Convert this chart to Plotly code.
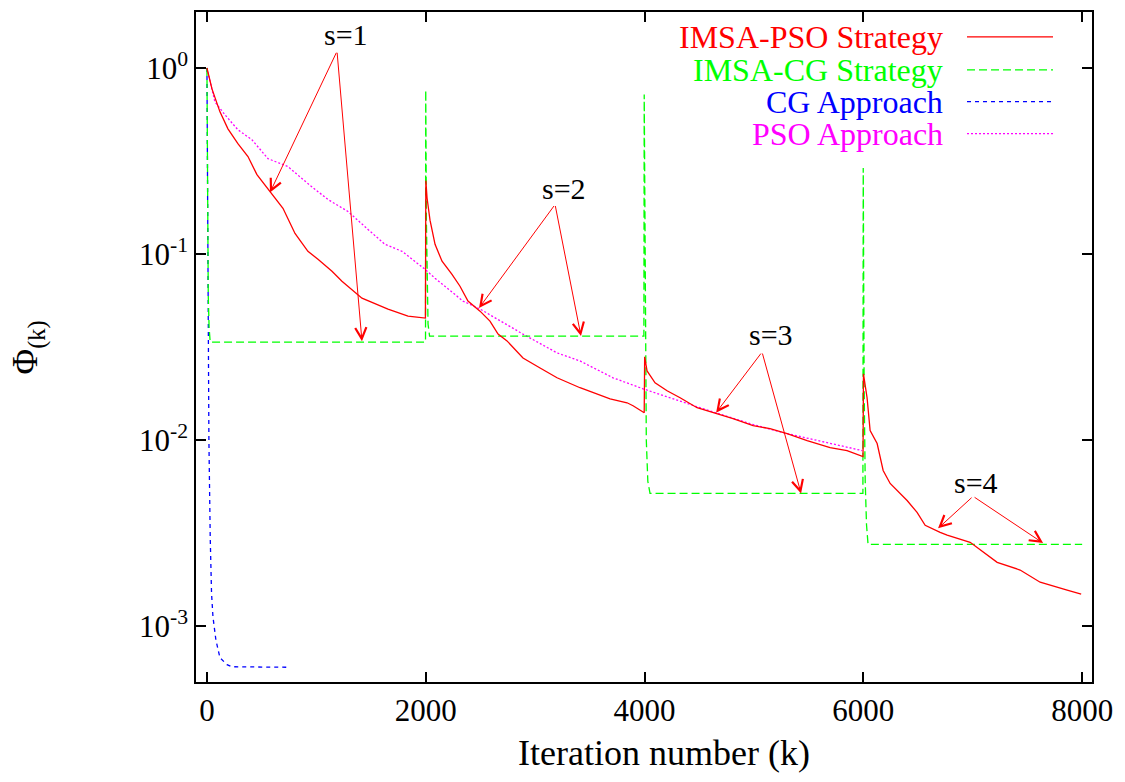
import numpy as np
import plotly.graph_objects as go

# ---------------- data ----------------
# IMSA-PSO Strategy
iter_imsa_pso = [0, 46, 119, 192, 283, 375, 457, 576, 695, 805, 923, 1015, 1143, 1234, 1417, 1655, 1838, 1997,
                 2001, 2012, 2039, 2085, 2149, 2240, 2313, 2386, 2496, 2587, 2661, 2743, 2889, 3045, 3200, 3410, 3685, 3840, 3895, 3997,
                 4001, 4023, 4096, 4206, 4325, 4480, 4663, 4809, 4992, 5147, 5303, 5486, 5696, 5851, 5997,
                 6001, 6034, 6062, 6126, 6181, 6245, 6336, 6400, 6491, 6565, 6702, 6766, 6976, 7223, 7433, 7616, 7863, 7991]
phi_imsa_pso = [1.0, 0.772, 0.581, 0.471, 0.392, 0.334, 0.267, 0.217, 0.176, 0.129, 0.1034, 0.0937, 0.0808, 0.0714, 0.0579, 0.0506, 0.0464, 0.0452,
                0.248, 0.2, 0.152, 0.1127, 0.0914, 0.0778, 0.0671, 0.0558, 0.0493, 0.0436, 0.0371, 0.0341, 0.0276, 0.0244, 0.0216, 0.0191, 0.01666, 0.01586, 0.01529, 0.01402,
                0.028, 0.02353, 0.0203, 0.01839, 0.01688, 0.01491, 0.01385, 0.01302, 0.01194, 0.0115, 0.01082, 0.00993, 0.0091, 0.00877, 0.00815,
                0.0227, 0.01688, 0.01123, 0.00957, 0.00686, 0.00584, 0.00516, 0.00473, 0.00408, 0.00348, 0.00319, 0.00308, 0.00282, 0.0022, 0.0020, 0.00172, 0.00156, 0.001485]

# IMSA-CG Strategy
iter_imsa_cg = [0, 5, 12, 20, 30, 1998, 2000, 2006, 2013, 2021, 2035, 3994, 3997, 4005, 4016, 4030, 4050,
                5996, 5999, 6007, 6017, 6029, 6043, 8000]
phi_imsa_cg = [1.0, 0.2, 0.06, 0.04, 0.0336, 0.0336, 0.76, 0.15, 0.06, 0.042, 0.0362, 0.0362, 0.72, 0.05, 0.01, 0.006, 0.00516,
               0.00516, 0.29, 0.02, 0.006, 0.0035, 0.00275, 0.00275]

# CG Approach
iter_cg = [0, 8, 18, 30, 42, 55, 82, 119, 183, 229, 740]
phi_cg = [1.0, 0.1, 0.01, 0.003, 0.0015, 0.00112, 0.00084, 0.000675, 0.00062, 0.000604, 0.0006]

# PSO Approach
iter_pso = [0, 73, 165, 283, 411, 558, 741, 923, 1106, 1289, 1472, 1627, 1783, 1993, 2085, 2341, 2496, 2889,
            3200, 3410, 3712, 3986, 4507, 4965, 5266, 5723, 5989]
phi_pso = [1.0, 0.657, 0.560, 0.4656, 0.4114, 0.3256, 0.2949, 0.239, 0.1963, 0.1693, 0.1356, 0.1127, 0.1034, 0.0828, 0.0741, 0.0558, 0.0506, 0.0371,
           0.0294, 0.0266, 0.0216, 0.01885, 0.01491, 0.01224, 0.01095, 0.00957, 0.00877]

series_names = ["IMSA-PSO Strategy", "IMSA-CG Strategy", "CG Approach", "PSO Approach"]
series_colors = ["#ff0000", "#00ff00", "#0000ff", "#ff00ff"]
series_dash = ["solid", "8px,4px", "4px,4px", "2px,2px"]

# stage labels and arrows: label position, arrow tail, arrow heads
stage_labels = ["s=1", "s=2", "s=3", "s=4"]
label_iter = [1271, 3264, 5157, 7031]
label_phi = [1.52, 0.225, 0.0367, 0.00592]
tail_iter = [1189, 3182, 5074, 7003]
tail_phi = [1.23, 0.1845, 0.0297, 0.00498]
head_iter = [[576, 1417], [2487, 3419], [4654, 5431], [6683, 7643]]
head_phi = [[0.214, 0.034], [0.0512, 0.0362], [0.01403, 0.00516], [0.00335, 0.00279]]

x_ticks = [0, 2000, 4000, 6000, 8000]
y_ticks = [1e-3, 1e-2, 1e-1, 1]
y_tick_text = ["10<sup>-3</sup>", "10<sup>-2</sup>", "10<sup>-1</sup>", "10<sup>0</sup>"]

FONT = "Liberation Serif"

fig = go.Figure()
all_x = [iter_imsa_pso, iter_imsa_cg, iter_cg, iter_pso]
all_y = [phi_imsa_pso, phi_imsa_cg, phi_cg, phi_pso]
# draw order: PSO approach, CG approach, IMSA-CG, IMSA-PSO on top
for i in [3, 2, 1, 0]:
    fig.add_trace(go.Scatter(x=all_x[i], y=all_y[i], mode="lines", name=series_names[i],
                             line=dict(color=series_colors[i], width=1.3, dash=series_dash[i]),
                             showlegend=False))

annotations = []
for k in range(4):
    annotations.append(dict(x=label_iter[k], y=np.log10(label_phi[k]), xref="x", yref="y",
                            text=stage_labels[k], showarrow=False, xanchor="center", yanchor="middle",
                            font=dict(family=FONT, size=30, color="black")))
    for j in range(2):
        annotations.append(dict(x=head_iter[k][j], y=np.log10(head_phi[k][j]), xref="x", yref="y",
                                ax=tail_iter[k], ay=np.log10(tail_phi[k]), axref="x", ayref="y",
                                text="", showarrow=True, arrowhead=5, arrowsize=2.2, arrowwidth=1,
                                arrowcolor="#ff0000", standoff=0, startstandoff=0))

# manual legend (text on the left, sample line on the right)
leg_y = [0.9628, 0.9137, 0.8661, 0.8185]
shapes = []
for i in range(4):
    annotations.append(dict(x=0.836, y=leg_y[i], xref="paper", yref="paper", text=series_names[i],
                            showarrow=False, xanchor="right", yanchor="middle",
                            font=dict(family=FONT, size=32, color=series_colors[i])))
    shapes.append(dict(type="line", xref="paper", yref="paper", x0=0.8605, x1=0.9565, y0=leg_y[i], y1=leg_y[i],
                       line=dict(color=series_colors[i], width=1.3, dash=series_dash[i])))

# axis titles
annotations.append(dict(x=0.522, y=-0.106, xref="paper", yref="paper", text="Iteration number (k)",
                        showarrow=False, xanchor="center", yanchor="middle",
                        font=dict(family=FONT, size=36, color="black")))
annotations.append(dict(x=-0.187, y=0.50, xref="paper", yref="paper", text="Φ<sub>(k)</sub>",
                        showarrow=False, xanchor="center", yanchor="middle", textangle=-90,
                        font=dict(family=FONT, size=35, color="black")))

fig.update_layout(
    width=1125, height=782,
    margin=dict(l=196, r=33, t=10, b=100),
    paper_bgcolor="white", plot_bgcolor="white",
    font=dict(family=FONT, size=31, color="black"),
    annotations=annotations, shapes=shapes,
    showlegend=False,
)
fig.update_xaxes(range=[-100, 8090], tickvals=x_ticks, ticks="inside", ticklen=10, tickwidth=1.5,
                 tickcolor="black", showline=True, linecolor="black", linewidth=1.5, mirror="ticks",
                 showgrid=False, zeroline=False, tickfont=dict(family=FONT, size=31, color="black"))
fig.update_yaxes(type="log", range=[np.log10(5e-4), np.log10(2)], tickvals=y_ticks, ticktext=y_tick_text,
                 ticks="inside", ticklen=10, tickwidth=1.5, tickcolor="black", showline=True,
                 linecolor="black", linewidth=1.5, mirror="ticks", showgrid=False, zeroline=False,
                 tickfont=dict(family=FONT, size=31, color="black"))

fig.write_html("out.html")
